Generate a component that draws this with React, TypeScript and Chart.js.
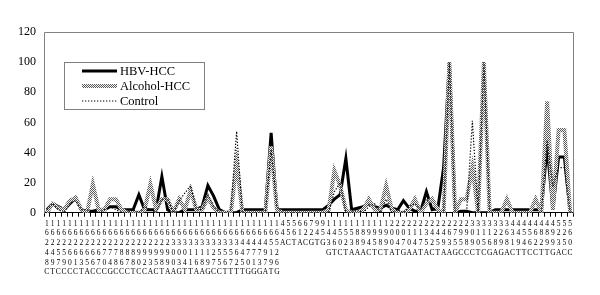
import React, { useEffect, useRef } from "react";
import { Chart, registerables } from "chart.js";

Chart.register(...registerables);

// Category labels (position + base), drawn one character per line
const hvs1Labels = [
  "16248C", "16249T", "16257C", "16259C", "16260C", "16261C", "16263T", "16265A", "16266C", "16267C",
  "16270C", "16274G", "16278C", "16286C", "16287C", "16288T", "16290C", "16292C", "16293A", "16295C",
  "16298T", "16299A", "16300A", "16303G", "16304T", "16311T", "16316A", "16318A", "16319G", "16327C",
  "16355C", "16356T", "16357T", "16362T", "16445T", "16470G", "16471G", "16473G", "16497A", "16519T",
  "16526G",
];
const shortLabels = ["44A", "55C", "56T", "61A", "62C", "72G", "94T", "95G"];
const hvs2Labels = [
  "143G", "146T", "150C", "152T", "153A", "188A", "189A", "194C", "195T", "198C",
  "199T", "200A", "204T", "207G", "210A", "214A", "217T", "235A", "242C", "245T",
  "249A", "263A", "275G", "295C", "298C", "309C", "310T", "315C", "316G", "328A",
  "329G", "368A", "431C", "449T", "454T", "456C", "462C", "482T", "489T", "499G",
  "523A", "525C", "560C",
];

const seriesNames = ["HBV-HCC", "Alcohol-HCC", "Control"];

const hbvHcc = [
  2, 6, 4, 2, 6, 10, 2, 1, 1, 2,
  2, 4, 4, 2, 2, 2, 12, 2, 2, 2,
  24, 2, 0, 0, 2, 2, 2, 4, 18, 11,
  2, 0, 0, 0, 2, 2, 2, 2, 2, 53,
  2, 2, 2, 2, 2, 2, 2, 2, 2, 5,
  9, 12, 36, 2, 3, 4, 6, 4, 3, 5,
  3, 2, 8, 3, 1, 1, 14, 2, 3, 30,
  100, 0, 1, 1, 0, 0, 0, 0, 2, 2,
  2, 2, 2, 2, 2, 2, 2, 44, 2, 37,
  37, 0,
];
const alcoholHcc = [
  0, 6, 3, 2, 8, 10, 2, 0, 19, 2,
  2, 9, 9, 2, 0, 0, 0, 2, 19, 2,
  9, 9, 0, 9, 2, 15, 2, 2, 10, 3,
  0, 0, 0, 33, 0, 0, 0, 0, 0, 44,
  2, 0, 0, 0, 0, 0, 0, 0, 0, 2,
  28, 18, 2, 0, 0, 2, 9, 2, 2, 18,
  2, 0, 0, 2, 9, 0, 6, 9, 2, 0,
  100, 0, 9, 9, 30, 0, 100, 0, 0, 0,
  9, 0, 0, 0, 0, 9, 0, 74, 2, 55,
  55, 0,
];
const control = [
  2, 6, 2, 0, 6, 8, 2, 2, 0, 0,
  2, 4, 2, 0, 0, 2, 0, 4, 2, 0,
  9, 9, 0, 8, 13, 18, 2, 2, 12, 4,
  0, 0, 2, 54, 0, 0, 0, 0, 0, 42,
  4, 0, 0, 0, 0, 0, 0, 0, 0, 0,
  14, 20, 0, 0, 2, 0, 4, 6, 0, 9,
  0, 2, 0, 4, 6, 2, 9, 4, 0, 0,
  100, 0, 0, 0, 61, 0, 100, 0, 0, 0,
  0, 0, 0, 0, 0, 0, 0, 48, 17, 30,
  30, 0,
];

const yMin = 0;
const yMax = 120;
const yStep = 20;

const FONT = '"Liberation Serif", "Times New Roman", serif';
const DOTS = [1.3, 1.7];

export default function App() {
  const ref = useRef<HTMLCanvasElement | null>(null);

  useEffect(() => {
    document.body.style.margin = "0";
    const canvas = ref.current;
    if (!canvas) return;

    const pc = document.createElement("canvas");
    pc.width = 2;
    pc.height = 2;
    const pctx = pc.getContext("2d")!;
    pctx.fillStyle = "#f4f4f4";
    pctx.fillRect(0, 0, 2, 2);
    pctx.fillStyle = "#5a5a5a";
    pctx.fillRect(0, 0, 1, 1);
    pctx.fillRect(1, 1, 1, 1);
    const pattern = canvas.getContext("2d")!.createPattern(pc, "repeat")!;

    const labels = [...hvs1Labels, ...shortLabels, ...hvs2Labels].map((s) => s.split(""));

    const framePlugin = {
      id: "frame",
      beforeDatasetsDraw(chart: any) {
        const { ctx, chartArea: a } = chart;
        ctx.save();
        ctx.strokeStyle = "#808080";
        ctx.lineWidth = 1;
        ctx.beginPath();
        ctx.moveTo(Math.round(a.left) + 0.5, Math.round(a.bottom) + 0.5);
        ctx.lineTo(Math.round(a.left) + 0.5, Math.round(a.top) + 0.5);
        ctx.lineTo(Math.round(a.right) + 0.5, Math.round(a.top) + 0.5);
        ctx.lineTo(Math.round(a.right) + 0.5, Math.round(a.bottom) + 0.5);
        ctx.stroke();
        ctx.restore();
      },
      afterDraw(chart: any) {
        const { ctx } = chart;
        ctx.save();
        const bx = 64.5, by = 62.5, bw = 140, bh = 47;
        ctx.fillStyle = "#ffffff";
        ctx.fillRect(bx, by, bw, bh);
        ctx.strokeStyle = "#808080";
        ctx.lineWidth = 1;
        ctx.strokeRect(bx, by, bw, bh);
        const rows = [71, 86, 101];
        const styles = [
          { color: "#000000", width: 3, dash: [] as number[] },
          { color: pattern as any, width: 4, dash: [] as number[] },
          { color: "#000000", width: 1.2, dash: DOTS },
        ];
        rows.forEach((y, i) => {
          const s = styles[i];
          ctx.beginPath();
          ctx.strokeStyle = s.color;
          ctx.lineWidth = s.width;
          ctx.setLineDash(s.dash);
          ctx.moveTo(82, y);
          ctx.lineTo(117, y);
          ctx.stroke();
          ctx.setLineDash([]);
          ctx.fillStyle = "#000000";
          ctx.font = `12.5px ${FONT}`;
          ctx.textBaseline = "middle";
          ctx.textAlign = "left";
          ctx.fillText(seriesNames[i], 120, y + 0.5);
        });
        ctx.restore();
      },
    };

    const chart = new Chart(canvas, {
      type: "line",
      data: {
        labels,
        datasets: [
          {
            label: seriesNames[0],
            data: hbvHcc,
            borderColor: "#000000",
            borderWidth: 3,
            pointRadius: 0,
            tension: 0,
            fill: false,
            order: 2,
          },
          {
            label: seriesNames[1],
            data: alcoholHcc,
            borderColor: pattern as any,
            borderWidth: 4,
            pointRadius: 0,
            tension: 0,
            fill: false,
            order: 1,
          },
          {
            label: seriesNames[2],
            data: control,
            borderColor: "#000000",
            borderWidth: 1.2,
            borderDash: DOTS,
            pointRadius: 0,
            tension: 0,
            fill: false,
            order: 0,
          },
        ],
      },
      options: {
        responsive: false,
        animation: false,
        devicePixelRatio: 1,
        layout: { padding: { top: 32, right: 27, left: 0, bottom: 0 } },
        plugins: {
          legend: { display: false },
          tooltip: { enabled: false },
        },
        scales: {
          x: {
            type: "category",
            offset: true,
            grid: {
              display: true,
              drawOnChartArea: false,
              drawTicks: true,
              tickLength: 4,
              offset: true,
              color: "#000000",
            },
            border: { display: true, color: "#000000", width: 1 },
            ticks: {
              autoSkip: false,
              maxRotation: 0,
              minRotation: 0,
              padding: 2,
              color: "#000000",
              font: { family: FONT, size: 7.5, lineHeight: 1.3 },
            },
            afterFit(scale: any) {
              scale.height = 82.3;
            },
          },
          y: {
            min: yMin,
            max: yMax,
            grid: { display: false, drawTicks: false },
            border: { display: false },
            ticks: {
              stepSize: yStep,
              padding: 8,
              color: "#000000",
              font: { family: FONT, size: 12 },
            },
            afterFit(scale: any) {
              scale.width = 44;
            },
          },
        },
      },
      plugins: [framePlugin],
    });

    return () => chart.destroy();
  }, []);

  return (
    <div style={{ width: 600, height: 295 }}>
      <canvas ref={ref} width={600} height={295} style={{ display: "block" }} />
    </div>
  );
}
